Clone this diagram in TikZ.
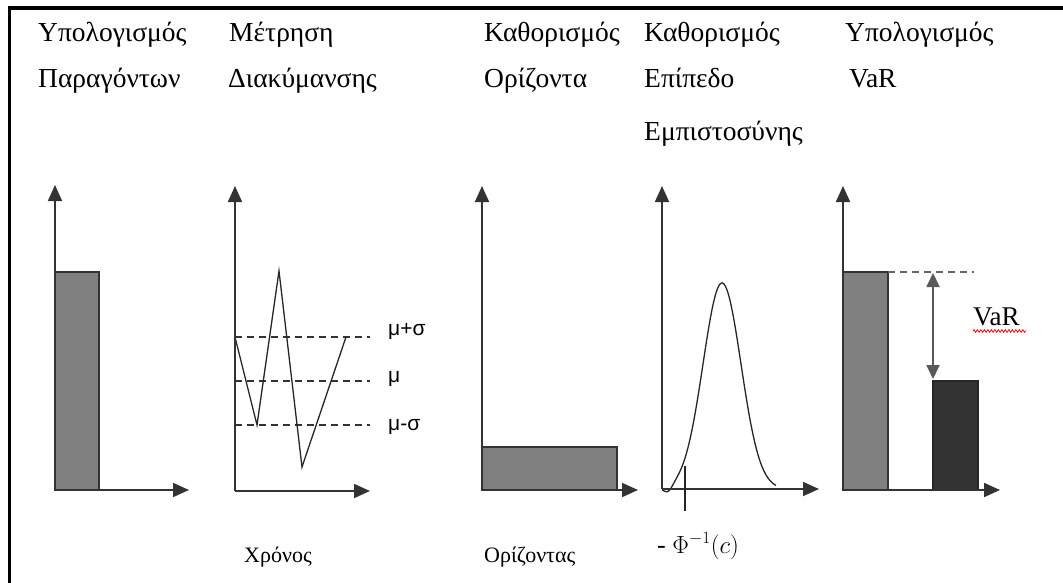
\documentclass[tikz,border=0pt]{standalone}
\usepackage{fontspec}
\setmainfont{Liberation Serif}
\newfontfamily\sansf{Liberation Sans}
\usetikzlibrary{arrows.meta,decorations.pathmorphing}
\begin{document}
\begin{tikzpicture}[x=1pt,y=-1pt,
  axis/.style={draw=black!80, line width=1.8pt, -{Triangle[length=16pt,width=14pt]}},
  barA/.style={fill=black!50, draw=black!80, line width=1.4pt},
  barB/.style={fill=black!80, draw=black!85, line width=1.4pt},
  dashln/.style={draw=black!80, line width=1.2pt, dash pattern=on 7pt off 5pt},
  head/.style={anchor=base west, inner sep=0pt, font=\fontsize{27.5}{30}\selectfont},
  lab/.style={anchor=base west, inner sep=0pt, font=\fontsize{22}{24}\selectfont},
  mu/.style={anchor=west, inner sep=0pt, font=\sansf\fontsize{21}{23}\selectfont},
  curve/.style={draw=black!85, line width=1.3pt}]
\useasboundingbox (0,0) rectangle (1063,583);
% frame
\draw[line width=3.5pt] (9.5,583) -- (9.5,8) -- (1063,8);
% headings
\node[head] (h1a) at (38,42) {Υπολογισμός};
\node[head] (h1b) at (38,88) {Παραγόντων};
\node[head] (h2a) at (229,42) {Μέτρηση};
\node[head] (h2b) at (228,88) {Διακύμανσης};
\node[head] (h3a) at (484,42) {Καθορισμός};
\node[head] (h3b) at (484,88) {Ορίζοντα};
\node[head] (h4a) at (644,42) {Καθορισμός};
\node[head] (h4b) at (644,88) {Επίπεδο};
\node[head] (h4c) at (644,141) {Εμπιστοσύνης};
\node[head] (h5a) at (845,42) {Υπολογισμός};
\node[head] (h5b) at (849,88) {VaR};
% panel 1
\path[barA] (55,272) rectangle (99,490);
\draw[axis] (55,490) -- (55,185);
\draw[axis] (55,490) -- (189,490);
% panel 2
\draw[dashln] (235,337) -- (370,337);
\draw[dashln] (235,381) -- (370,381);
\draw[dashln] (235,425) -- (370,425);
\draw[curve] (235,337) -- (257,425) -- (279,271) -- (302,467) -- (346,337);
\draw[axis] (235,491) -- (235,186);
\draw[axis] (235,491) -- (370,491);
\node[mu] (m1) at (388,331) {μ+σ};
\node[mu] (m2) at (388,379) {μ};
\node[mu] (m3) at (388,427) {μ-σ};
\node[lab] (t2) at (244,562) {Χρόνος};
% panel 3
\path[barA] (482,447) rectangle (617,490);
\draw[axis] (482,490) -- (482,186);
\draw[axis] (482,490) -- (638,490);
\node[lab] (t3) at (484,562) {Ορίζοντας};
% panel 4
\draw[curve] plot[domain=662:776, samples=150, smooth] (\x, {489 - 206*exp(-((\x-722)/19)^2/2) + 6*exp(-((\x-668)/6)^2)});
\draw[axis] (662,489) -- (662,186);
\draw[axis] (662,489) -- (819,489);
\draw[curve] (685,466) -- (685,511);
\node[anchor=base west, inner sep=0pt, font=\fontsize{26}{28}\selectfont] (t4) at (657,553) {- $\Phi^{-1}(c)$};
% panel 5
\path[barA] (843,272) rectangle (888,490);
\path[barB] (933,381) rectangle (978,490);
\draw[dashln, draw=black!60] (888,272) -- (974,272);
\draw[draw=black!65, line width=1.8pt, {Triangle[length=14pt,width=13pt]}-{Triangle[length=14pt,width=13pt]}] (933,273) -- (933,379);
\draw[axis] (843,490) -- (843,186);
\draw[axis] (843,490) -- (1000,490);
\node[anchor=base west, inner sep=0pt, font=\fontsize{27}{30}\selectfont] (v) at (973,325) {VaR};
\draw[red, line width=0.8pt, decorate, decoration={zigzag, amplitude=1.3pt, segment length=3.5pt}] (973,331) -- (1026,331);
\end{tikzpicture}
\end{document}
